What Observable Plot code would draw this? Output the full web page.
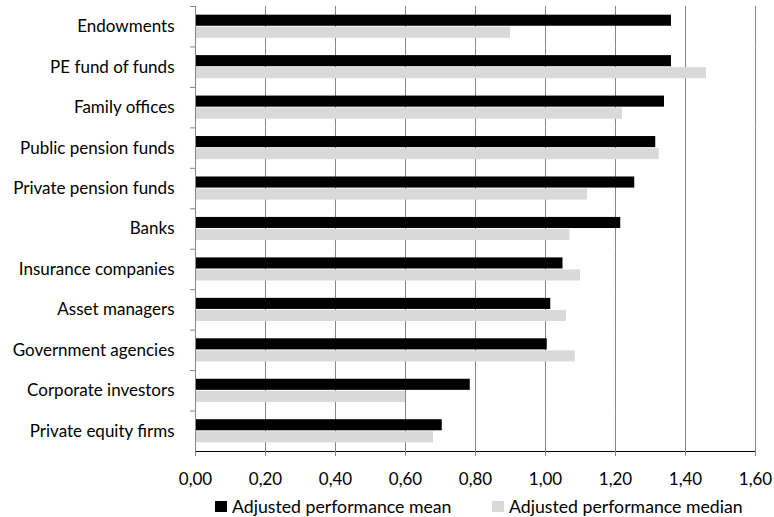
<!DOCTYPE html>
<html><head><meta charset="utf-8">
<script src="https://cdn.jsdelivr.net/npm/d3@7"></script>
<script src="https://cdn.jsdelivr.net/npm/@observablehq/plot@0.6"></script>
<style>
body{margin:0;background:#fff;font-family:Lato,"Open Sans",sans-serif;}
#chart svg [aria-label*="axis"] line, #chart svg [aria-label*="axis"] path{stroke:#868686;}
.legend{position:relative;height:22px;font-size:17.7px;color:#000;}
.legend .item{position:absolute;top:0;height:22px;display:flex;align-items:center;white-space:nowrap;}
.legend .sw{width:12px;height:11px;margin-right:5px;}
</style></head><body>
<div id="chart"></div>
<script>
const categories = ["Endowments","PE fund of funds","Family offices","Public pension funds","Private pension funds","Banks","Insurance companies","Asset managers","Government agencies","Corporate investors","Private equity firms"];
const seriesNames = ["Adjusted performance mean","Adjusted performance median"];
const meanValues = [1.36,1.36,1.34,1.315,1.255,1.215,1.05,1.015,1.005,0.785,0.705];
const medianValues = [0.90,1.46,1.22,1.325,1.12,1.07,1.10,1.06,1.085,0.60,0.68];
const xTicks = [0,0.2,0.4,0.6,0.8,1.0,1.2,1.4,1.6];
const colors = ["#000000","#d9d9d9"];
const legendLeft = [215, 492];

const rows = [];
categories.forEach((c,i)=>{
  rows.push({category:c, series:seriesNames[0], value:meanValues[i]});
  rows.push({category:c, series:seriesNames[1], value:medianValues[i]});
});

const W = 774, mL = 195, mR = 19;
const chart = Plot.plot({
  width: W, height: 495,
  marginLeft: mL, marginRight: mR, marginTop: 6, marginBottom: 44,
  style: {fontFamily:"Lato, 'Open Sans', sans-serif", fontSize:"17px", color:"#000", background:"#fff"},
  facet: {data: rows, y: "category"},
  fy: {domain: categories, padding: 0, round: false, axis: "left", tickSize: 0, tickPadding: 21, label: null},
  y: {domain: seriesNames, paddingInner: 0.08, paddingOuter: 0.72, round: false, axis: null},
  x: {domain: [0,1.6], ticks: xTicks, tickFormat: d => d.toFixed(2).replace(".", ","), tickSize: 5, tickPadding: 16, line: true, label: null},
  color: {domain: seriesNames, range: colors},
  marks: [
    Plot.ruleX(xTicks.filter(d => d > 0), {stroke: "#868686"}),
    Plot.barX(rows, {x: "value", y: "series", fill: "series"}),
    Plot.ruleX([0], {stroke: "#868686"}),
    Plot.frame({anchor: "top", stroke: "#868686", insetLeft: -5, insetRight: W - mL - mR})
  ]
});
document.getElementById("chart").appendChild(chart);

const legend = document.createElement("div");
legend.className = "legend";
seriesNames.forEach((s,i)=>{
  const it = document.createElement("div"); it.className = "item"; it.style.left = legendLeft[i] + "px";
  const sw = document.createElement("div"); sw.className = "sw"; sw.style.background = colors[i];
  const t = document.createElement("span"); t.textContent = s;
  it.appendChild(sw); it.appendChild(t); legend.appendChild(it);
});
document.body.appendChild(legend);
</script>
</body></html>
